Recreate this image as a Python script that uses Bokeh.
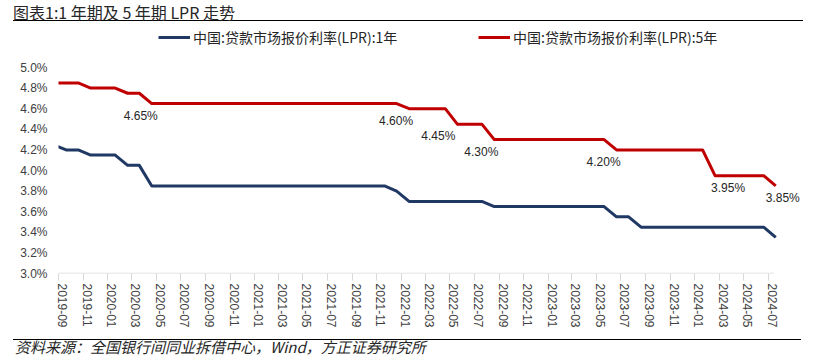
import pandas as pd
from bokeh.plotting import figure
from bokeh.layouts import column
from bokeh.models import (ColumnDataSource, Label, Legend, LegendItem, FixedTicker,
                          DatetimeTickFormatter, PrintfTickFormatter, Range1d, Div)
from bokeh.embed import file_html
from bokeh.resources import INLINE

# ---------------- data ----------------
months = pd.date_range("2019-08-01", "2024-07-01", freq="MS")
release_day = 20  # LPR published around the 20th of each month

lpr_1y = [4.25, 4.20, 4.20, 4.15, 4.15,
          4.15, 4.05, 4.05, 3.85, 3.85, 3.85, 3.85, 3.85, 3.85, 3.85, 3.85, 3.85,
          3.85, 3.85, 3.85, 3.85, 3.85, 3.85, 3.85, 3.85, 3.85, 3.85, 3.85, 3.80,
          3.70, 3.70, 3.70, 3.70, 3.70, 3.70, 3.70, 3.65, 3.65, 3.65, 3.65, 3.65,
          3.65, 3.65, 3.65, 3.65, 3.65, 3.55, 3.55, 3.45, 3.45, 3.45, 3.45, 3.45,
          3.45, 3.45, 3.45, 3.45, 3.45, 3.45, 3.35]
lpr_5y = [4.85, 4.85, 4.85, 4.80, 4.80,
          4.80, 4.75, 4.75, 4.65, 4.65, 4.65, 4.65, 4.65, 4.65, 4.65, 4.65, 4.65,
          4.65, 4.65, 4.65, 4.65, 4.65, 4.65, 4.65, 4.65, 4.65, 4.65, 4.65, 4.65,
          4.60, 4.60, 4.60, 4.60, 4.45, 4.45, 4.45, 4.30, 4.30, 4.30, 4.30, 4.30,
          4.30, 4.30, 4.30, 4.30, 4.30, 4.20, 4.20, 4.20, 4.20, 4.20, 4.20, 4.20,
          4.20, 3.95, 3.95, 3.95, 3.95, 3.95, 3.85]

label_months = ["2020-04", "2022-01", "2022-05", "2022-08", "2023-06", "2024-02", "2024-07"]
label_values = [4.65, 4.60, 4.45, 4.30, 4.20, 3.95, 3.85]

y_ticks = [3.0, 3.2, 3.4, 3.6, 3.8, 4.0, 4.2, 4.4, 4.6, 4.8, 5.0]
x_tick_months = pd.date_range("2019-09-01", "2024-07-01", freq="2MS")

series_names = ["中国:贷款市场报价利率(LPR):1年", "中国:贷款市场报价利率(LPR):5年"]
title_text = "图表1:1 年期及 5 年期 LPR 走势"
source_text = "资料来源：全国银行间同业拆借中心，Wind，方正证券研究所"

# ---------------- styles ----------------
BLUE = "#203864"
RED = "#c00000"
TXT = "#404040"
DARK = "#262626"
W = 816
TOP_H, MAIN_H, BOT_H = 24, 315, 24
label_dx = [-11, -13, -19, -13, -13, 13, 7]   # px nudges of the data labels
label_dy = -12
x_start, x_end, axis_end = "2019-09-01", "2024-10-02", "2024-07-15"
y_lo, y_hi = 3.0, 5.4175

to_ms = lambda t: pd.Timestamp(t).value / 1e6
dates = [m + pd.Timedelta(days=release_day - 1) for m in months]

# ---------------- top: title + rule ----------------
top = Div(width=W, height=TOP_H, margin=0, text=(
    f'<div style="margin:0 0 0 13px;width:790px;height:21px;padding-top:0;'
    f'border-bottom:1.6px solid #000;font-family:\'Noto Sans CJK SC\';font-size:16px;'
    f'line-height:normal;color:{DARK};white-space:nowrap;">{title_text}</div>'))

# ---------------- main chart ----------------
p = figure(width=W, height=MAIN_H, frame_width=747, frame_height=249,
           x_axis_type="datetime", output_backend="svg", toolbar_location=None,
           min_border_left=58, min_border_right=11, min_border_top=0, min_border_bottom=66,
           x_range=Range1d(pd.Timestamp(x_start), pd.Timestamp(x_end)),
           y_range=Range1d(y_lo, y_hi))
p.outline_line_color = None
p.xgrid.visible = False
p.ygrid.visible = False

src = ColumnDataSource(dict(date=dates, y1=lpr_1y, y5=lpr_5y))
p.segment(x0=[pd.Timestamp(x_start)], y0=[y_lo], x1=[pd.Timestamp(axis_end)], y1=[y_lo],
          line_color="#d9d9d9", line_width=1.5)
r1 = p.line("date", "y1", source=src, line_color=BLUE, line_width=3, line_join="round")
r5 = p.line("date", "y5", source=src, line_color=RED, line_width=3, line_join="round")

label_pos = [m + pd.Timedelta(days=10) for m in x_tick_months]
p.xaxis.ticker = FixedTicker(ticks=[to_ms(t) for t in label_pos],
                             minor_ticks=[to_ms(t) for t in x_tick_months])
fmt = "%Y-%m"
p.xaxis.formatter = DatetimeTickFormatter(microseconds=fmt, milliseconds=fmt, seconds=fmt,
                                          minsec=fmt, minutes=fmt, hourmin=fmt, hours=fmt,
                                          days=fmt, months=fmt, years=fmt)
p.xaxis.major_label_orientation = "vertical"
p.xaxis.axis_line_color = None
p.xaxis.major_tick_line_color = None
p.xaxis.major_tick_out = 0
p.xaxis.major_tick_in = 0
p.xaxis.minor_tick_line_color = "#d9d9d9"
p.xaxis.minor_tick_out = 7
p.xaxis.minor_tick_in = 0
p.xaxis.major_label_standoff = 3
p.xaxis.major_label_text_font = "Liberation Sans"
p.xaxis.major_label_text_font_size = "12px"
p.xaxis.major_label_text_color = TXT

p.yaxis.ticker = FixedTicker(ticks=y_ticks)
p.yaxis.formatter = PrintfTickFormatter(format="%.1f%%")
p.yaxis.axis_line_color = None
p.yaxis.major_tick_line_color = None
p.yaxis.minor_tick_line_color = None
p.yaxis.major_tick_out = 0
p.yaxis.major_label_standoff = 11
p.yaxis.major_label_text_font = "Liberation Sans"
p.yaxis.major_label_text_font_size = "12px"
p.yaxis.major_label_text_color = TXT

for mth, v, dx in zip(label_months, label_values, label_dx):
    d = pd.Timestamp(mth + "-01") + pd.Timedelta(days=release_day - 1)
    p.add_layout(Label(x=to_ms(d), y=v, x_offset=dx, y_offset=label_dy,
                       text=f"{v:.2f}%", text_align="center", text_baseline="middle",
                       text_font="Liberation Sans", text_font_size="12px", text_color=DARK))

for r, name, vx in [(r1, series_names[0], 100), (r5, series_names[1], 420)]:
    lg = Legend(items=[LegendItem(label=name, renderers=[r])], location=(vx, 226),
                padding=0, margin=0, spacing=0, glyph_width=32, glyph_height=16,
                label_height=16, label_standoff=3, border_line_color=None,
                background_fill_alpha=0, label_text_font="Noto Sans CJK SC",
                label_text_font_size="14px", label_text_color=DARK)
    p.add_layout(lg)

# ---------------- bottom: rule + source ----------------
bot = Div(width=W, height=BOT_H, margin=0, text=(
    f'<div style="margin:0 0 0 13px;width:788px;padding-left:2px;'
    f'border-top:1.3px solid #000;font-family:\'Noto Sans CJK SC\';font-size:15px;'
    f'font-style:italic;line-height:13px;padding-top:0;color:{DARK};'
    f'white-space:nowrap;">{source_text}</div>'))

layout = column(top, p, bot, spacing=0)
open("out.html", "w").write(file_html(layout, INLINE))
